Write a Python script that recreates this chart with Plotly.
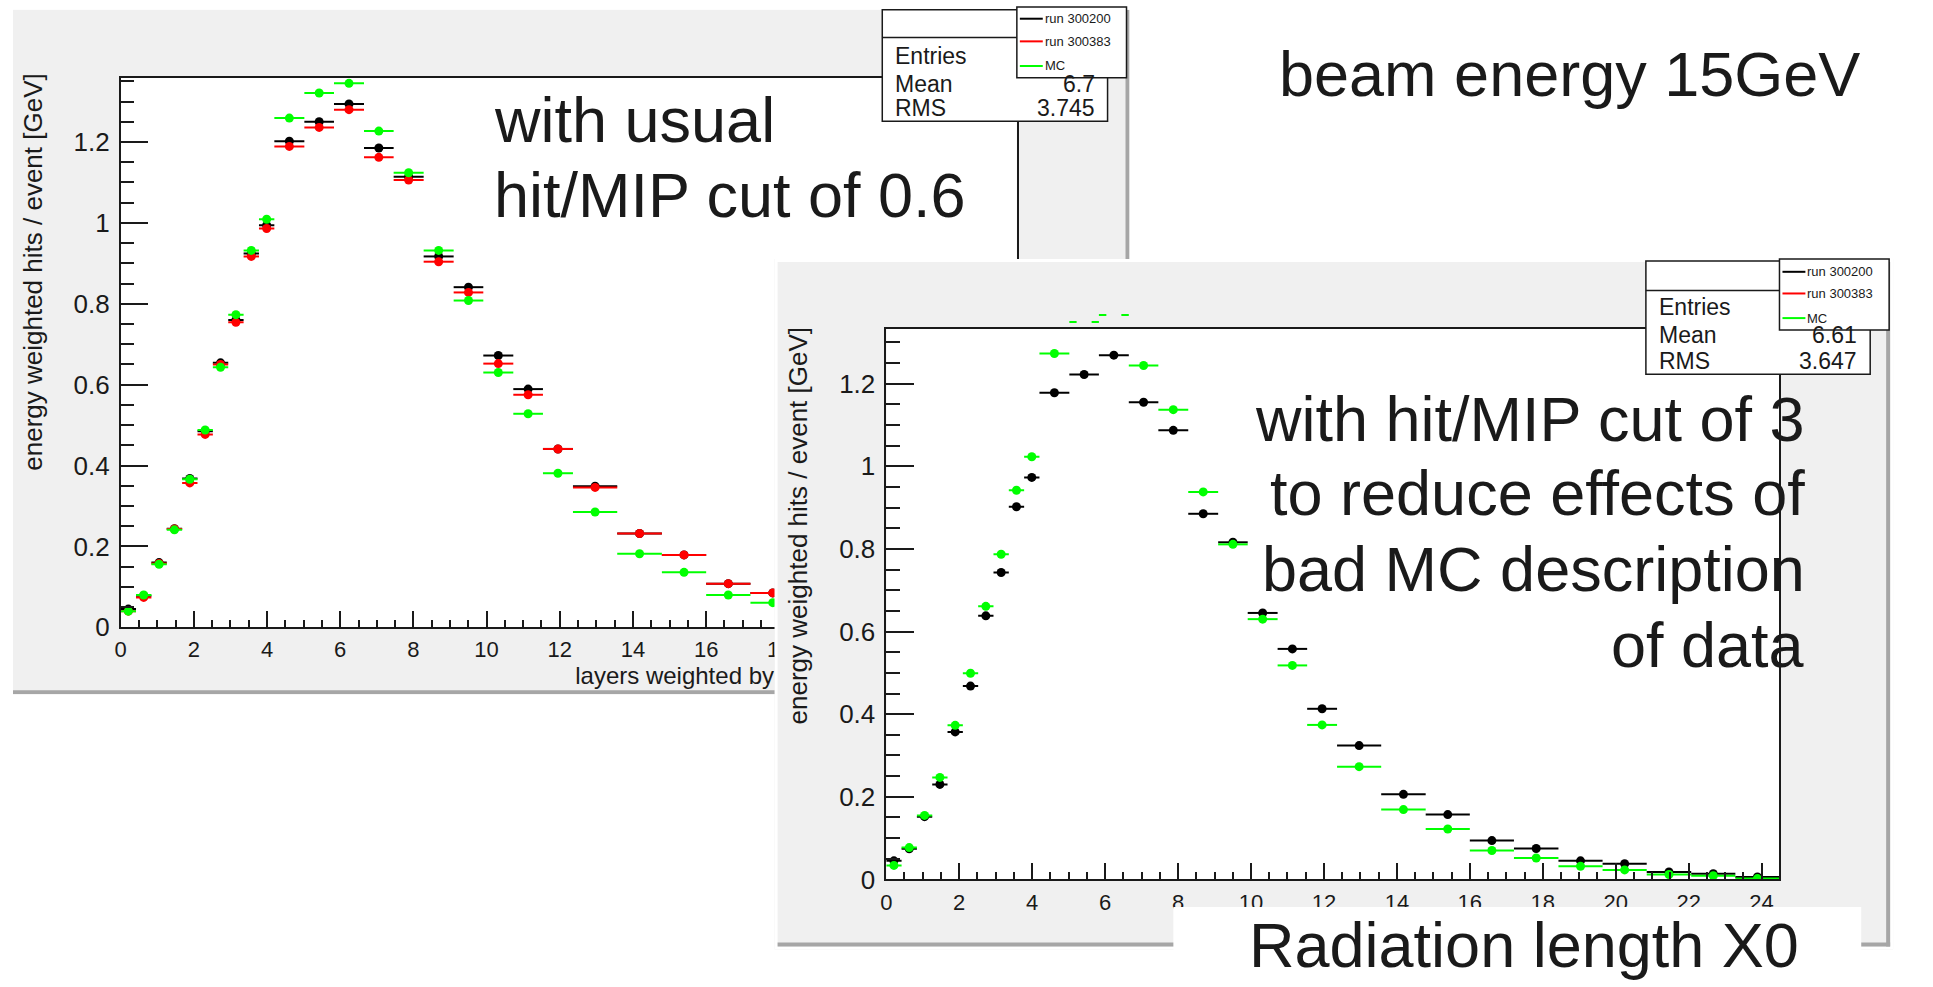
import plotly.graph_objects as go

W, H = 1933, 987
FONT = "Liberation Sans"
TXT = "#1a1a1a"
CANVAS = "#f0f0f0"
SHADOW = "#a6a6a6"

# ---------------- data ----------------
bin_edges = [0.00, 0.42, 0.84, 1.26, 1.68, 2.10, 2.52, 2.94, 3.36, 3.78, 4.20,
             5.02, 5.83, 6.65, 7.46, 8.28, 9.10, 9.91, 10.73, 11.54, 12.36,
             13.57, 14.79, 16.00, 17.21, 18.43, 19.64, 20.85, 22.07, 23.28, 24.49]

# left canvas: hit/MIP cut 0.6 (bins beyond 25 hidden by the right canvas)
left_run300200 = [0.045, 0.078, 0.160, 0.244, 0.368, 0.485, 0.654, 0.760, 0.924, 0.994,
                  1.202, 1.250, 1.294, 1.185, 1.114, 0.917, 0.841, 0.672, 0.589, 0.441,
                  0.349, 0.232, 0.179, 0.108, 0.085]
left_run300383 = [0.040, 0.074, 0.158, 0.243, 0.357, 0.477, 0.650, 0.754, 0.917, 0.986,
                  1.189, 1.236, 1.280, 1.162, 1.106, 0.904, 0.828, 0.652, 0.575, 0.441,
                  0.346, 0.232, 0.179, 0.108, 0.085]
left_mc = [0.040, 0.080, 0.156, 0.241, 0.366, 0.488, 0.643, 0.773, 0.932, 1.009,
           1.259, 1.321, 1.345, 1.227, 1.124, 0.932, 0.808, 0.630, 0.528, 0.381,
           0.285, 0.182, 0.136, 0.080, 0.061]

# right canvas: hit/MIP cut 3
right_run300200 = [0.045, 0.074, 0.152, 0.230, 0.357, 0.468, 0.638, 0.743, 0.902, 0.973,
                   1.178, 1.222, 1.269, 1.155, 1.087, 0.885, 0.816, 0.645, 0.558, 0.413,
                   0.324, 0.206, 0.157, 0.094, 0.075, 0.045, 0.038, 0.018, 0.014, 0.006]
right_mc = [0.034, 0.077, 0.155, 0.247, 0.373, 0.499, 0.661, 0.787, 0.942, 1.023,
            1.273, 1.349, 1.366, 1.244, 1.137, 0.938, 0.811, 0.630, 0.518, 0.374,
            0.273, 0.169, 0.122, 0.070, 0.052, 0.032, 0.023, 0.012, 0.009, 0.002]

left_xticks = [0, 2, 4, 6, 8, 10, 12, 14, 16, 18]
right_xticks = [0, 2, 4, 6, 8, 10, 12, 14, 16, 18, 20, 22, 24]

legend_labels = ["run 300200", "run 300383", "MC"]
series_colors = ["#000000", "#ff0000", "#00ff00"]
stats_names = ["Entries", "Mean", "RMS"]
stats_left_values = ["", "6.7", "3.745"]
stats_right_values = ["", "6.61", "3.647"]

y_title = "energy weighted hits / event [GeV]"
x_title_left = "layers weighted by X0"
x_title_right = "Radiation length X0"
note_top = "beam energy 15GeV"
note_left = ["with usual", "hit/MIP cut of 0.6"]
note_right = ["with hit/MIP cut of 3", "to reduce effects of", "bad MC description", "of data"]

centers = [(bin_edges[i] + bin_edges[i + 1]) / 2 for i in range(len(bin_edges) - 1)]
halfw = [(bin_edges[i + 1] - bin_edges[i]) / 2 for i in range(len(bin_edges) - 1)]
xmax = bin_edges[-1]
ymax_L = 1.05 * max(left_run300200)
ymax_R = 1.05 * max(right_run300200)

# ---------------- layout geometry (picture pixels) ----------------
L_canvas = (7, 1127, 10, 705)      # x0, x1, ytop, ybottom
L_frame = (115, 1014, 79, 637)
R_canvas = (771, 1893, 263, 964)
R_frame = (883, 1779, 334, 893)
R_over = (883, 1779, 300, 334)


def px(x):
    return x / W


def py(y):
    return 1 - y / H


def dom_x(b):
    return [px(b[0]), px(b[1])]


def dom_y(b):
    return [py(b[3]), py(b[2])]


fig = go.Figure()


def hist_trace(vals, color, xa, ya, keep=None, marker_color=None, msym="circle", msize=9):
    idx = [i for i in range(len(vals)) if (keep is None or keep(vals[i]))]
    return go.Scatter(
        x=[centers[i] for i in idx], y=[vals[i] for i in idx],
        mode="markers", xaxis=xa, yaxis=ya, hoverinfo="skip", showlegend=False,
        marker=dict(size=msize, color=marker_color or color, symbol=msym, line=dict(width=0)),
        error_x=dict(type="data", array=[halfw[i] for i in idx], symmetric=True,
                     thickness=2, width=0, color=color),
    )


# left canvas subplot (pixel coordinates) - holds the left x-axis title so the right canvas covers it
fig.add_trace(go.Scatter(x=[571], y=[688], mode="text", text=[x_title_left],
                         textposition="middle right", xaxis="x", yaxis="y",
                         textfont=dict(family=FONT, size=24, color=TXT),
                         hoverinfo="skip", showlegend=False, cliponaxis=False))

# left frame
fig.add_trace(hist_trace(left_run300200, series_colors[0], "x2", "y2"))
fig.add_trace(hist_trace(left_run300383, series_colors[1], "x2", "y2"))
fig.add_trace(hist_trace(left_mc, series_colors[2], "x2", "y2"))

# right canvas (empty, background only)
fig.add_trace(go.Scatter(x=[None], y=[None], xaxis="x3", yaxis="y3", hoverinfo="skip",
                         showlegend=False, mode="markers"))

# overflow strip above right frame: MC bins exceeding the frame maximum (marker clipped, bar ends visible)
fig.add_trace(hist_trace(right_mc, series_colors[2], "x4", "y4", keep=lambda v: v > ymax_R,
                         marker_color=CANVAS, msym="square", msize=15))

# right frame
fig.add_trace(hist_trace(right_run300200, series_colors[0], "x5", "y5"))
fig.add_trace(hist_trace(right_mc, series_colors[2], "x5", "y5", keep=lambda v: v <= ymax_R))


def frame_x(dom, anchor, tickvals):
    return dict(domain=dom, range=[0, xmax], anchor=anchor, showgrid=False, zeroline=False,
                showline=True, linecolor=TXT, linewidth=1.5, mirror=True,
                ticks="inside", ticklen=17, tickwidth=1.5, tickcolor=TXT,
                tickmode="array", tickvals=tickvals, ticktext=[str(v) for v in tickvals],
                tickfont=dict(family=FONT, size=22, color=TXT), ticklabelstandoff=2,
                minor=dict(ticks="inside", ticklen=8, tickwidth=1.5, tickcolor=TXT,
                           tickmode="linear", tick0=0, dtick=0.5),
                fixedrange=True)


def frame_y(dom, anchor, ymax):
    return dict(domain=dom, range=[0, ymax], anchor=anchor, showgrid=False, zeroline=False,
                showline=True, linecolor=TXT, linewidth=1.5, mirror=True,
                ticks="inside", ticklen=28, tickwidth=1.5, tickcolor=TXT,
                tick0=0, dtick=0.2, tickfont=dict(family=FONT, size=26, color=TXT),
                ticklabelstandoff=4,
                minor=dict(ticks="inside", ticklen=14, tickwidth=1.5, tickcolor=TXT, dtick=0.05),
                fixedrange=True)


hidden = dict(visible=False, showgrid=False, zeroline=False, fixedrange=True)

over_h = R_over[3] - R_over[2]
units_per_px_R = ymax_R / (R_frame[3] - R_frame[2])

fig.update_layout(
    width=W, height=H, autosize=False,
    margin=dict(l=0, r=0, t=0, b=0, pad=0),
    paper_bgcolor="white", plot_bgcolor=CANVAS,
    showlegend=False,
    xaxis=dict(domain=dom_x(L_canvas), range=[L_canvas[0], L_canvas[1]], anchor="y", **hidden),
    yaxis=dict(domain=dom_y(L_canvas), range=[L_canvas[3], L_canvas[2]], anchor="x", **hidden),
    xaxis2=frame_x(dom_x(L_frame), "y2", left_xticks),
    yaxis2=frame_y(dom_y(L_frame), "x2", ymax_L),
    xaxis3=dict(domain=dom_x(R_canvas), range=[R_canvas[0], R_canvas[1]], anchor="y3", **hidden),
    yaxis3=dict(domain=dom_y(R_canvas), range=[R_canvas[3], R_canvas[2]], anchor="x3", **hidden),
    xaxis4=dict(domain=dom_x(R_over), range=[0, xmax], anchor="y4", **hidden),
    yaxis4=dict(domain=dom_y(R_over), range=[ymax_R, ymax_R + over_h * units_per_px_R],
                anchor="x4", **hidden),
    xaxis5=frame_x(dom_x(R_frame), "y5", right_xticks),
    yaxis5=frame_y(dom_y(R_frame), "x5", ymax_R),
)

shapes = []
# left canvas shadows
shapes.append(dict(type="rect", xref="x", yref="y", layer="below", x0=1123, x1=1127, y0=10, y1=705,
                   fillcolor=SHADOW, line=dict(width=0)))
shapes.append(dict(type="rect", xref="x", yref="y", layer="below", x0=7, x1=1127, y0=701, y1=705,
                   fillcolor=SHADOW, line=dict(width=0)))
# left frame white
shapes.append(dict(type="rect", xref="x2", yref="y2", layer="below", x0=0, x1=xmax, y0=0, y1=ymax_L,
                   fillcolor="white", line=dict(width=0)))
# right canvas: white rim, gray body, shadows
shapes.append(dict(type="rect", xref="x3", yref="y3", layer="below", x0=R_canvas[0], x1=R_canvas[1],
                   y0=R_canvas[2], y1=R_canvas[3], fillcolor="white", line=dict(width=0)))
shapes.append(dict(type="rect", xref="x3", yref="y3", layer="below", x0=774, x1=1890, y0=266, y1=961,
                   fillcolor=CANVAS, line=dict(width=0)))
shapes.append(dict(type="rect", xref="x3", yref="y3", layer="below", x0=1886, x1=1890, y0=266, y1=961,
                   fillcolor=SHADOW, line=dict(width=0)))
shapes.append(dict(type="rect", xref="x3", yref="y3", layer="below", x0=774, x1=1890, y0=957, y1=961,
                   fillcolor=SHADOW, line=dict(width=0)))
# right frame white
shapes.append(dict(type="rect", xref="x5", yref="y5", layer="below", x0=0, x1=xmax, y0=0, y1=ymax_R,
                   fillcolor="white", line=dict(width=0)))

annotations = []


def ann(text, x, y, size, xanchor="left", yanchor="middle", **kw):
    d = dict(text=text, x=px(x), y=py(y), xref="paper", yref="paper", xanchor=xanchor,
             yanchor=yanchor, showarrow=False, borderpad=0,
             font=dict(family=FONT, size=size, color=kw.pop("color", TXT)))
    d.update(kw)
    return d


def stats_box(x0, x1, y0, y1, ydiv, rows_y, values):
    shapes.append(dict(type="rect", xref="paper", yref="paper", layer="above",
                       x0=px(x0), x1=px(x1), y0=py(y1), y1=py(y0),
                       fillcolor="white", line=dict(color=TXT, width=1.5)))
    shapes.append(dict(type="line", xref="paper", yref="paper", layer="above",
                       x0=px(x0), x1=px(x1), y0=py(ydiv), y1=py(ydiv),
                       line=dict(color=TXT, width=1.5)))
    for name, val, yy in zip(stats_names, values, rows_y):
        annotations.append(ann(name, x0 + 12, yy, 23))
        if val:
            annotations.append(ann(val, x1 - 12, yy, 23, xanchor="right"))


def legend_box(x0, x1, y0, y1, rows_y):
    shapes.append(dict(type="rect", xref="paper", yref="paper", layer="above",
                       x0=px(x0), x1=px(x1), y0=py(y1), y1=py(y0),
                       fillcolor="white", line=dict(color=TXT, width=1.5)))
    for lab, col, yy in zip(legend_labels, series_colors, rows_y):
        shapes.append(dict(type="line", xref="paper", yref="paper", layer="above",
                           x0=px(x0 + 3), x1=px(x0 + 26), y0=py(yy), y1=py(yy),
                           line=dict(color=col, width=2)))
        annotations.append(ann(lab, x0 + 27, yy, 13))


stats_box(879, 1105, 10, 123, 38, [57, 85, 110], stats_left_values)
legend_box(1014, 1124, 7, 79, [19, 42, 67])
stats_box(1645, 1870, 265, 380, 295, [312, 340, 367], stats_right_values)
legend_box(1779, 1889, 263, 335, [276, 298, 323])

# axis titles (y)
annotations.append(ann(y_title, 27, 276, 26, xanchor="center", textangle=-90))
annotations.append(ann(y_title, 794, 534, 26, xanchor="center", textangle=-90))

# big notes
annotations.append(ann(note_top, 1276, 75, 63))
annotations.append(ann(note_left[0], 489, 122, 63))
annotations.append(ann(note_left[1], 489, 198, 63))
for line, yy in zip(note_right, [425, 501, 578, 655]):
    annotations.append(ann(line, 1806, yy, 63, xanchor="right"))

# right x-axis title in white box
shapes.append(dict(type="rect", xref="paper", yref="paper", layer="above",
                   x0=px(1171), x1=px(1861), y0=py(987), y1=py(921),
                   fillcolor="white", line=dict(width=0)))
annotations.append(ann(x_title_right, 1523, 960, 63, xanchor="center"))

fig.update_layout(shapes=shapes, annotations=annotations)
fig.write_html("out.html")
